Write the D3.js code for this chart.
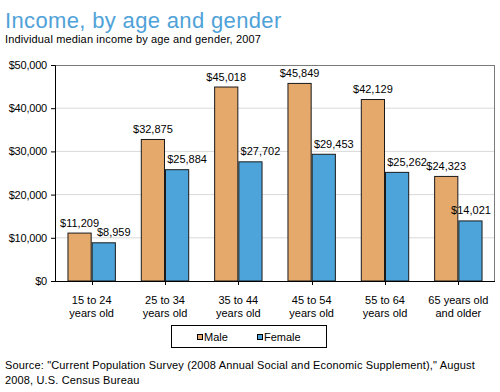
<!DOCTYPE html>
<html><head><meta charset="utf-8">
<script src="https://cdn.jsdelivr.net/npm/d3@7"></script>
<style>
html,body{margin:0;padding:0;background:#fff;}
text{font-family:Arial,"Liberation Sans",sans-serif;}
</style></head>
<body><svg id="c" width="500" height="392"></svg>
<script>
const categories = [["15 to 24","years old"],["25 to 34","years old"],["35 to 44","years old"],["45 to 54","years old"],["55 to 64","years old"],["65 years old","and older"]];
const male = [11209, 32875, 45018, 45849, 42129, 24323];
const female = [8959, 25884, 27702, 29453, 25262, 14021];
const seriesNames = ["Male","Female"];
const yTicks = [0,10000,20000,30000,40000,50000];

const svg = d3.select("#c");
const L=55, R=495, T=65, B=281;
const colors = ["#E5A96B","#4CA4DB"];

svg.append("text").attr("x",5).attr("y",28).attr("font-size",22).attr("letter-spacing","0.35").attr("fill","#4FA2D8").text("Income, by age and gender");
svg.append("text").attr("x",5).attr("y",43).attr("font-size",11).attr("letter-spacing","0.15").attr("fill","#000").text("Individual median income by age and gender, 2007");

const x = d3.scaleBand().domain(d3.range(categories.length)).range([L,R]).paddingInner(0.34).paddingOuter(0.17);
const x1 = d3.scaleBand().domain([0,1]).range([0,x.bandwidth()]);
const y = d3.scaleLinear().domain([0,50000]).range([B,T]);
const fmt = d3.format("$,");

// gridlines
svg.append("g").selectAll("line").data(yTicks.slice(1,-1)).join("line")
  .attr("x1",L).attr("x2",R).attr("y1",d=>y(d)).attr("y2",d=>y(d)).attr("stroke","#D9D9D9").attr("stroke-width",1);
// frame
svg.append("line").attr("x1",L).attr("x2",R).attr("y1",T+0.5).attr("y2",T+0.5).attr("stroke","#7a7a7a");
svg.append("line").attr("x1",R-0.5).attr("x2",R-0.5).attr("y1",T).attr("y2",B).attr("stroke","#7a7a7a");

// y axis
const ya = svg.append("g").attr("transform",`translate(${L},0)`).call(d3.axisLeft(y).tickValues(yTicks).tickFormat(fmt).tickSize(4).tickPadding(4));
ya.select(".domain").attr("stroke","#000");
ya.selectAll(".tick line").attr("stroke","#000");
ya.selectAll("text").attr("font-size",11).attr("font-family","Arial,'Liberation Sans',sans-serif").attr("fill","#000").attr("letter-spacing","-0.2");

const series = [male, female];
series.forEach((vals,si)=>{
  const g = svg.append("g");
  g.selectAll("rect").data(vals).join("rect")
    .attr("x",(d,i)=>x(i)+x1(si)+0.5).attr("y",d=>y(d)+0.5)
    .attr("width",x1.bandwidth()-1).attr("height",d=>B-y(d)-0.5)
    .attr("fill",colors[si]).attr("stroke","#1a1a1a").attr("stroke-width",1);
  g.selectAll("text").data(vals).join("text")
    .attr("x",(d,i)=>{
      let cx = x(i)+x1(si)+x1.bandwidth()/2 + (si===1?10:0);
      return Math.min(cx, R-24);
    })
    .attr("y",d=>y(d)-6).attr("text-anchor","middle").attr("font-size",11).attr("fill","#000")
    .text(d=>fmt(d));
});

// x axis
svg.append("line").attr("x1",L).attr("x2",R).attr("y1",B+0.5).attr("y2",B+0.5).attr("stroke","#000");
const xa = svg.append("g");
xa.selectAll("line").data(d3.range(categories.length)).join("line")
  .attr("x1",i=>Math.round(x(i)+x.bandwidth()/2)+0.5).attr("x2",i=>Math.round(x(i)+x.bandwidth()/2)+0.5)
  .attr("y1",B).attr("y2",B+4).attr("stroke","#000");
xa.selectAll("text").data(categories).join("text")
  .attr("x",(d,i)=>x(i)+x.bandwidth()/2).attr("y",304).attr("text-anchor","middle").attr("font-size",11)
  .attr("fill","#000")
  .each(function(d){
    const t=d3.select(this);
    t.append("tspan").attr("x",t.attr("x")).attr("dy",0).text(d[0]);
    t.append("tspan").attr("x",t.attr("x")).attr("dy",12.5).text(d[1]);
  });

// legend
const lg = svg.append("g");
lg.append("rect").attr("x",171.5).attr("y",325.5).attr("width",155).attr("height",22).attr("fill","#fff").attr("stroke","#000");
const lx=[200,260];
seriesNames.forEach((n,i)=>{
  lg.append("rect").attr("x",lx[i]-2.5).attr("y",334.5).attr("width",5).attr("height",5).attr("fill",colors[i]).attr("stroke","#000").attr("stroke-width",1);
  lg.append("text").attr("x",lx[i]+4).attr("y",341).attr("font-size",11).attr("fill","#000").text(n);
});

// source
const src = svg.append("text").attr("x",5).attr("y",369).attr("font-size",11).attr("fill","#000").attr("letter-spacing","0.15");
src.append("tspan").attr("x",5).text("Source:  \"Current Population Survey (2008 Annual Social and Economic Supplement),\" August");
src.append("tspan").attr("x",5).attr("dy",15).text("2008, U.S. Census Bureau");
</script></body></html>
